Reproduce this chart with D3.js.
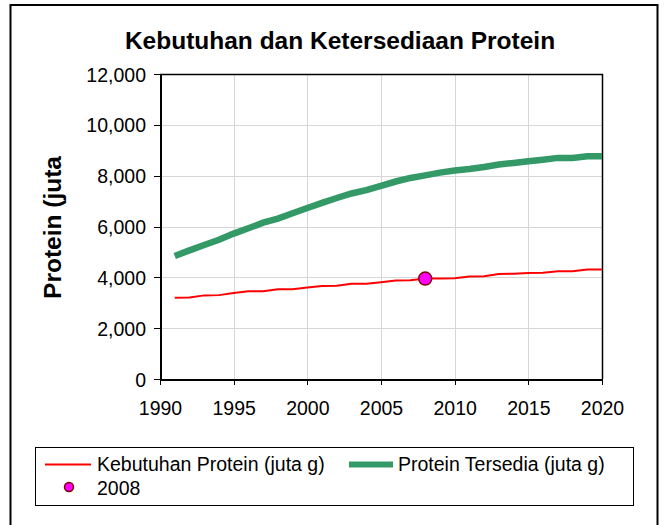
<!DOCTYPE html>
<html>
    <head>
        <script src="https://d3js.org/d3.v7.min.js"></script>
        <style>
            body { margin: 0; background: #fff; }
            svg { font-family: "Liberation Sans", Arial, sans-serif; }
            .axis path, .axis line { stroke: #000; shape-rendering: crispEdges; }
            .axis text { font-size: 19.5px; fill: #000; }
            .grid line { stroke: #d6d6d6; shape-rendering: crispEdges; }
        </style>
    </head>
    <body>
    <script>
        var years = [1991,1992,1993,1994,1995,1996,1997,1998,1999,2000,
                     2001,2002,2003,2004,2005,2006,2007,2008,2009,2010,
                     2011,2012,2013,2014,2015,2016,2017,2018,2019,2020]
        var kebutuhan = [3200,3210,3290,3300,3380,3450,3450,3530,3530,3600,
                         3660,3670,3750,3750,3810,3880,3890,3950,3950,3960,
                         4030,4040,4130,4140,4170,4180,4235,4240,4310,4310]
        var tersedia = [4840,5060,5270,5480,5720,5930,6150,6310,6520,6730,
                        6930,7120,7300,7430,7600,7770,7910,8010,8120,8200,
                        8260,8340,8440,8500,8570,8630,8700,8700,8760,8760]
        var point2008 = {year: 2008, value: 3950}
        var xTicks = [1990,1995,2000,2005,2010,2015,2020]
        var yTicks = [0,2000,4000,6000,8000,10000,12000]
        var seriesNames = ['Kebutuhan Protein (juta g)', 'Protein Tersedia (juta g)', '2008']

        var w = 665, h = 525
        var pl = 160, pr = 602, pt = 74, pb = 379

        var svg = d3.select('body').append('svg')
            .attr('width', w).attr('height', h)

        // outer chart border
        svg.append('rect')
            .attr('x', 10.5).attr('y', 5).attr('width', 647).attr('height', 530)
            .attr('fill', '#fff').attr('stroke', '#000').attr('stroke-width', 2)

        svg.append('text')
            .attr('x', 340).attr('y', 49)
            .attr('text-anchor', 'middle')
            .style('font-size', '24.5px').style('font-weight', 'bold')
            .text('Kebutuhan dan Ketersediaan Protein')

        var xScale = d3.scaleLinear().domain([1990, 2020]).range([pl, pr])
        var yScale = d3.scaleLinear().domain([0, 12000]).range([pb, pt])

        // gridlines
        var grid = svg.append('g').attr('class', 'grid')
        grid.selectAll('.v').data(xTicks.slice(1, -1)).enter().append('line')
            .attr('x1', d => Math.round(xScale(d)) + 0.5).attr('x2', d => Math.round(xScale(d)) + 0.5)
            .attr('y1', pt).attr('y2', pb)
        grid.selectAll('.h').data(yTicks.slice(1, -1)).enter().append('line')
            .attr('y1', d => Math.round(yScale(d)) + 0.5).attr('y2', d => Math.round(yScale(d)) + 0.5)
            .attr('x1', pl).attr('x2', pr)

        // plot area border (top / right)
        svg.append('path')
            .attr('d', 'M' + pl + ',' + (pt + 0.5) + 'H' + (pr + 0.5) + 'V' + pb)
            .attr('fill', 'none').attr('stroke', '#000').attr('stroke-width', 1.5)

        var xAxis = d3.axisBottom(xScale).tickValues(xTicks).tickFormat(d3.format('d'))
            .tickSizeInner(6).tickSizeOuter(0).tickPadding(16)
        var yAxis = d3.axisLeft(yScale).tickValues(yTicks).tickFormat(d3.format(','))
            .tickSizeInner(6).tickSizeOuter(0).tickPadding(8)

        var gx = svg.append('g').attr('class', 'axis')
            .attr('transform', 'translate(0,' + pb + ')').call(xAxis)
        gx.select('.domain').attr('stroke-width', 2)
        var gy = svg.append('g').attr('class', 'axis')
            .attr('transform', 'translate(' + pl + ',0)').call(yAxis)
        gy.select('.domain').attr('stroke-width', 2)
        gy.selectAll('text').attr('dy', '0.36em')

        svg.append('text')
            .attr('transform', 'translate(61,' + ((pt + pb) / 2 + 1) + ') rotate(-90)')
            .attr('text-anchor', 'middle')
            .style('font-size', '24.5px').style('font-weight', 'bold')
            .text('Protein (juta')

        var line = d3.line()
            .x((d, i) => xScale(years[i]))
            .y(d => yScale(d))

        svg.append('path')
            .attr('d', line(tersedia))
            .attr('fill', 'none').attr('stroke', '#339966').attr('stroke-width', 6.5)

        svg.append('path')
            .attr('d', line(kebutuhan))
            .attr('fill', 'none').attr('stroke', '#ff0000').attr('stroke-width', 2)

        svg.append('circle')
            .attr('cx', xScale(point2008.year)).attr('cy', yScale(point2008.value))
            .attr('r', 6.5).attr('fill', '#ff00ff').attr('stroke', '#800000').attr('stroke-width', 1.5)

        // legend
        var lg = svg.append('g')
        lg.append('rect')
            .attr('x', 35.5).attr('y', 447.5).attr('width', 598).attr('height', 58)
            .attr('fill', '#fff').attr('stroke', '#000').attr('stroke-width', 1)
        lg.append('line').attr('x1', 45).attr('x2', 91).attr('y1', 464.5).attr('y2', 464.5)
            .attr('stroke', '#ff0000').attr('stroke-width', 2)
        lg.append('line').attr('x1', 349).attr('x2', 393).attr('y1', 464.5).attr('y2', 464.5)
            .attr('stroke', '#339966').attr('stroke-width', 6)
        lg.append('circle').attr('cx', 69).attr('cy', 487).attr('r', 4.5)
            .attr('fill', '#ff00ff').attr('stroke', '#800000').attr('stroke-width', 1.5)
        var lx = [97, 398, 97], ly = [471, 471, 495]
        lg.selectAll('.lt').data(seriesNames).enter().append('text')
            .attr('x', (d, i) => lx[i]).attr('y', (d, i) => ly[i])
            .style('font-size', '19.5px')
            .text(d => d)
    </script>
    </body>
</html>
